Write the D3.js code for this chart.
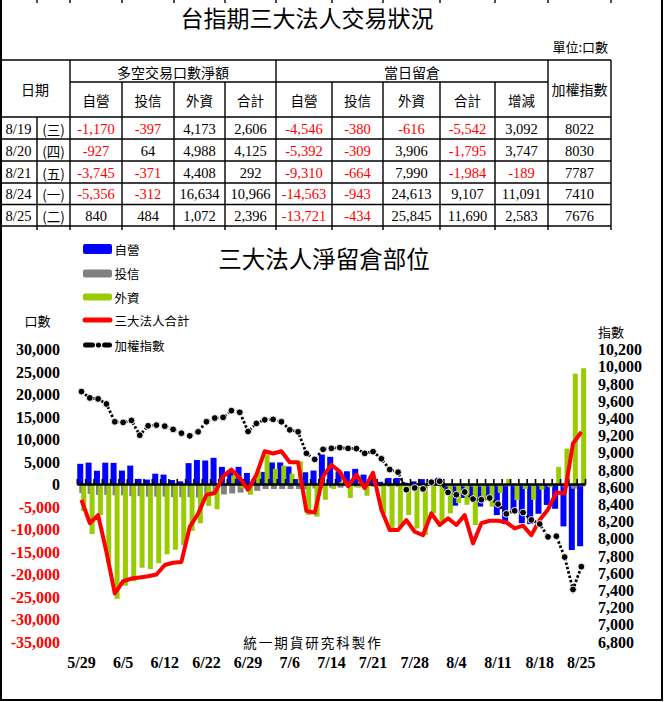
<!DOCTYPE html>
<html><head><meta charset="utf-8">
<script src="https://cdn.jsdelivr.net/npm/d3@7"></script>
<style>body{margin:0;background:#fff}svg{display:block}</style>
</head><body>
<svg id="c" width="664" height="702"></svg>
<script>
// ---------- table data ----------
const tblDates = ["8/19","8/20","8/21","8/24","8/25"];
const tblWeekdays = ["(三)","(四)","(五)","(一)","(二)"];
const netDealer = [-1170,-927,-3745,-5356,840];
const netTrust = [-397,64,-371,-312,484];
const netForeign = [4173,4988,4408,16634,1072];
const netTotal = [2606,4125,292,10966,2396];
const oiDealer = [-4546,-5392,-9310,-14563,-13721];
const oiTrust = [-380,-309,-664,-943,-434];
const oiForeign = [-616,3906,7990,24613,25845];
const oiTotal = [-5542,-1795,-1984,9107,11690];
const oiChange = [3092,3747,-189,11091,2583];
const tblIndex = [8022,8030,7787,7410,7676];
const subHeaders = ["自營","投信","外資","合計","自營","投信","外資","合計","增減"];

// ---------- chart data ----------
const dates = ["5/29","6/1","6/2","6/3","6/4","6/5","6/8","6/9","6/10","6/11","6/12","6/15","6/16","6/17","6/18","6/22","6/23","6/24","6/25","6/26","6/29","6/30","7/1","7/2","7/3","7/6","7/7","7/8","7/9","7/13","7/14","7/15","7/16","7/17","7/20","7/21","7/22","7/23","7/24","7/27","7/28","7/29","7/30","7/31","8/3","8/4","8/5","8/6","8/7","8/10","8/11","8/12","8/13","8/14","8/17","8/18","8/19","8/20","8/21","8/24","8/25"];
const dealer = [4600,4850,3050,4850,4800,3100,4200,1250,1100,2400,
  2200,1000,700,4750,5450,5330,5930,3920,3200,3920,
  2570,1200,2800,4900,4900,4000,1200,2720,3100,6650,
  6150,2940,2940,3470,2200,2000,600,1450,1450,400,
  700,1200,900,1500,-1500,-4700,-3000,-3400,-4900,-3500,
  -6800,-8800,-5800,-8600,-8800,-6500,-4546,-5392,-9310,-14563,-13721];
const trust = [-1900,-2100,-2300,-2300,-2400,-2400,-2600,-2600,-2700,-2700,
  -2700,-2800,-2800,-2800,-2900,-2000,-2200,-2200,-2000,-1800,
  -1500,-1400,-1000,-1000,-1000,-1000,-1000,-1100,-900,-800,
  -700,-700,-600,-600,-500,-500,-500,-500,-500,-500,
  -500,-500,-400,-400,-500,-500,-500,-500,-500,-400,
  -400,-400,-400,-400,-400,-400,-380,-309,-664,-943,-434];
const foreign = [-5900,-11000,-6800,-17400,-25400,-22500,-21500,-18500,-18800,-17500,
  -15500,-14500,-13500,-10300,-8600,-4750,-5500,300,2000,-800,
  -2300,2900,6670,3470,4200,2420,5170,-6770,-7140,-3400,
  -1000,600,-3000,-700,-2500,1100,-6500,-9750,-9230,-6770,
  -9750,-11250,-6400,-8260,-6400,-4150,-4500,-9000,-3400,-4900,
  -1900,1230,-3500,-1000,-3400,-1150,-616,3906,7990,24613,25845];
const total = [-3400,-8600,-6800,-15000,-24200,-21500,-20900,-20650,-20400,-20000,
  -17900,-17400,-17200,-9400,-6500,-2280,-1900,1800,3300,1450,
  -1160,2200,7400,6900,7400,4950,4950,-5900,-6250,1800,
  4400,2900,-400,2200,-800,2600,-5600,-10100,-10100,-7900,
  -10500,-11250,-6400,-9000,-7500,-9000,-6800,-13100,-8600,-8050,
  -8050,-8400,-9750,-9150,-11250,-7900,-5542,-1795,-1984,9107,11690];
const taiex = [9711,9637,9626,9567,9360,9353,9376,9204,9313,9321,
  9309,9271,9227,9196,9243,9360,9403,9411,9489,9470,
  9247,9341,9383,9388,9360,9266,9243,8993,8923,9040,
  9051,9060,9051,9048,8993,9013,8930,8805,8774,8571,
  8591,8579,8657,8668,8539,8512,8544,8462,8454,8474,
  8403,8290,8325,8305,8219,8172,8022,8030,7787,7410,7676];
const leftTicks = [30000,25000,20000,15000,10000,5000,0,-5000,-10000,-15000,-20000,-25000,-30000,-35000];
const rightTicks = [10200,10000,9800,9600,9400,9200,9000,8800,8600,8400,8200,8000,7800,7600,7400,7200,7000,6800];
const dateTicks = ["5/29","6/5","6/12","6/22","6/29","7/6","7/14","7/21","7/28","8/4","8/11","8/18","8/25"];
const legendItems = ["自營","投信","外資","三大法人合計","加權指數"];

const CJK = "'Noto Sans CJK TC','Noto Sans CJK SC',sans-serif";
const SERIF = "'Liberation Serif','Times New Roman',serif";
const BLUE="#0000FF", GRAY="#808080", GREEN="#99CC00", RED="#FF0000";

const svg = d3.select("#c");
svg.append("rect").attr("width",664).attr("height",702).attr("fill","#fff");

// ---------- table ----------
const colX=[0,37,70,122,174,225,276,332,383,440,495,548,611];
const rowY=[60,82,117,139,161,183,204.5,226];
const gT = svg.append("g").attr("stroke","#000").attr("stroke-width",1.4);
function ln(x1,y1,x2,y2,w){gT.append("line").attr("x1",x1).attr("y1",y1).attr("x2",x2).attr("y2",y2).attr("stroke-width",w||1.4);}
ln(0,60,611,60); ln(70,82,548,82);
for(let i=2;i<rowY.length;i++) ln(0,rowY[i],611,rowY[i]);
colX.forEach((cx,i)=>{
  if(i===0) return;
  if(i===1) ln(cx,117,cx,226);
  else if([2,6,11,12].includes(i)) ln(cx,60,cx,226);
  else ln(cx,82,cx,226);
  ln(cx,0,cx,3); ln(cx,226,cx,230);
});
// outer frame
ln(1,0,1,701,2); ln(662,0,662,701,2); ln(0,700,663,700,2);

function txt(x,y,s,opt){
  opt=opt||{};
  return svg.append("text").attr("x",x).attr("y",y).text(s)
    .attr("text-anchor",opt.anchor||"middle").attr("dominant-baseline","central")
    .attr("font-family",opt.font||CJK).attr("font-size",opt.size||13)
    .attr("font-weight",opt.weight||"normal").attr("fill",opt.fill||"#000")
    .attr("letter-spacing",opt.ls||0);
}
txt(307,17,"台指期三大法人交易狀況",{size:23});
txt(608,46,"單位:口數",{anchor:"end",size:13});
txt(35,89,"日期",{size:14});
txt(173,71.5,"多空交易口數淨額",{size:14});
txt(412,71.5,"當日留倉",{size:14});
txt(579.5,89,"加權指數",{size:14});
subHeaders.forEach((s,i)=>txt((colX[i+2]+colX[i+3])/2,100,s,{size:13.5}));
const fmt = v => (v<0?"-":"")+d3.format(",")(Math.abs(v));
const cols=[netDealer,netTrust,netForeign,netTotal,oiDealer,oiTrust,oiForeign,oiTotal,oiChange];
tblDates.forEach((d,r)=>{
  const cy=(rowY[r+2]+rowY[r+3])/2+0.5;
  txt(18.5,cy,d,{font:SERIF,size:14.5});
  txt(53.5,cy,tblWeekdays[r],{size:13.5});
  cols.forEach((arr,c)=>{
    const v=arr[r];
    txt((colX[c+2]+colX[c+3])/2,cy,fmt(v),{font:SERIF,size:14.5,fill:v<0?RED:"#000"});
  });
  txt(579.5,cy,String(tblIndex[r]),{font:SERIF,size:14.5});
});

// ---------- chart ----------
const x = d3.scaleBand().domain(dates).range([77.3,585.5]).padding(0);
const bw = x.bandwidth();
const cx = d => x(d)+bw/2;
const yL = d3.scaleLinear().domain([-35000,30000]).range([642,349.5]);
const yR = d3.scaleLinear().domain([6800,10200]).range([642,349.5]);
const y0 = yL(0);

function bars(arr,color,off,w){
  svg.append("g").selectAll("rect").data(arr).join("rect")
    .attr("x",(v,i)=>cx(dates[i])+off).attr("width",w)
    .attr("y",v=>Math.min(yL(v),y0)).attr("height",v=>Math.abs(yL(v)-y0))
    .attr("fill",color);
}
bars(dealer,BLUE,-4.2,6);
bars(trust,GRAY,-2.2,6);
bars(foreign,GREEN,-0.2,5);

// zero axis with tick marks at band boundaries
svg.append("line").attr("x1",77.3).attr("x2",585.5).attr("y1",y0).attr("y2",y0)
  .attr("stroke","#000").attr("stroke-width",2.5);
svg.append("g").selectAll("line").data(dates.concat(["_end"])).join("line")
  .attr("x1",(d,i)=>77.3+i*bw).attr("x2",(d,i)=>77.3+i*bw)
  .attr("y1",y0).attr("y2",y0-5.5).attr("stroke","#000").attr("stroke-width",1.6);

// total line
svg.append("path").datum(total)
  .attr("d",d3.line().x((v,i)=>cx(dates[i])).y(v=>yL(v)))
  .attr("fill","none").attr("stroke",RED).attr("stroke-width",4).attr("stroke-linejoin","round");

// index line
svg.append("path").datum(taiex)
  .attr("d",d3.line().x((v,i)=>cx(dates[i])).y(v=>yR(v)))
  .attr("fill","none").attr("stroke","#000").attr("stroke-width",2.8).attr("stroke-dasharray","2.5,2");
svg.append("g").selectAll("circle").data(taiex).join("circle")
  .attr("cx",(v,i)=>cx(dates[i])).attr("cy",v=>yR(v)).attr("r",3.4)
  .attr("fill","#000").attr("stroke","#fff").attr("stroke-width",0.9);

// axes
const axStyle = g => {
  g.select(".domain").remove();
  g.selectAll("text").attr("font-family",SERIF).attr("font-size",16).attr("font-weight","bold");
};
svg.append("g").attr("transform","translate(60,0)")
  .call(d3.axisLeft(yL).tickValues(leftTicks).tickFormat(fmt).tickSize(0).tickPadding(0))
  .call(axStyle)
  .call(g=>g.selectAll("text").attr("fill",d=>d<0?RED:"#000"));
svg.append("g").attr("transform","translate(598,0)")
  .call(d3.axisRight(yR).tickValues(rightTicks).tickFormat(d3.format(",")).tickSize(0).tickPadding(0))
  .call(axStyle)
  .call(g=>g.selectAll("text").attr("fill","#000"));
svg.append("g").attr("transform","translate(0,656.5)")
  .call(d3.axisBottom(x).tickValues(dateTicks).tickSize(0).tickPadding(0))
  .call(axStyle)
  .call(g=>g.selectAll("text").attr("fill","#000"));

// titles / notes
txt(324,258,"三大法人淨留倉部位",{size:23.5});
txt(37.5,320,"口數",{size:13});
txt(611,331,"指數",{size:13});
txt(313,642,"統一期貨研究科製作",{size:13.5,ls:2});

// legend
const lg = svg.append("g");
const ly=[249,273.5,297,320,345];
lg.append("rect").attr("x",83).attr("y",244).attr("width",29).attr("height",10).attr("rx",2).attr("fill",BLUE);
lg.append("rect").attr("x",83).attr("y",269.5).attr("width",29).attr("height",8).attr("rx",2).attr("fill",GRAY);
lg.append("rect").attr("x",83).attr("y",293.5).attr("width",29).attr("height",7).attr("rx",2).attr("fill",GREEN);
lg.append("line").attr("x1",85).attr("x2",110).attr("y1",320).attr("y2",320).attr("stroke",RED).attr("stroke-width",5).attr("stroke-linecap","round");
lg.append("rect").attr("x",83).attr("y",342.5).attr("width",12).attr("height",5).attr("rx",2.5).attr("fill","#000");
lg.append("circle").attr("cx",98.5).attr("cy",345).attr("r",2.6).attr("fill","#000");
lg.append("rect").attr("x",102).attr("y",342.5).attr("width",10).attr("height",5).attr("rx",2.5).attr("fill","#000");
legendItems.forEach((s,i)=>txt(114.5,ly[i],s,{anchor:"start",size:12.5}));
</script>
</body></html>
